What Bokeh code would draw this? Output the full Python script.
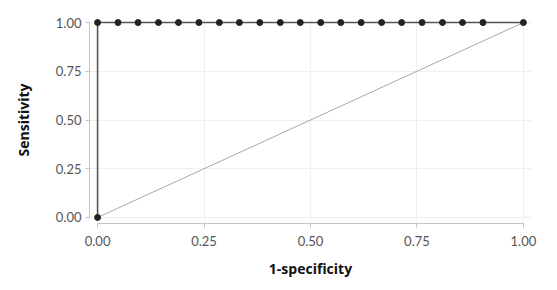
from bokeh.plotting import figure
from bokeh.models import Range1d, FixedTicker
from bokeh.embed import file_html
from bokeh.resources import INLINE

# ROC curve points (1-specificity, sensitivity)
fpr = [0.0, 0.0, 0.048, 0.095, 0.143, 0.190, 0.238, 0.286, 0.333, 0.381, 0.429,
       0.476, 0.524, 0.571, 0.619, 0.667, 0.714, 0.762, 0.810, 0.857, 0.905, 1.0]
tpr = [0.0, 1.0, 1.0, 1.0, 1.0, 1.0, 1.0, 1.0, 1.0, 1.0, 1.0,
       1.0, 1.0, 1.0, 1.0, 1.0, 1.0, 1.0, 1.0, 1.0, 1.0, 1.0]
ref_x = [0.0, 1.0]
ref_y = [0.0, 1.0]
ticks = [0.0, 0.25, 0.5, 0.75, 1.0]
tick_labels = {0.0: "0.00", 0.25: "0.25", 0.5: "0.50", 0.75: "0.75", 1.0: "1.00"}

FONT = "Lato"
TITLE_FONT = "Open Sans"

p = figure(width=549, height=282, output_backend="svg", toolbar_location=None,
           x_range=Range1d(-0.019, 1.019), y_range=Range1d(-0.031, 1.031),
           min_border_left=89, min_border_right=18, min_border_top=16, min_border_bottom=59)
p.outline_line_color = None
p.background_fill_color = "white"

for ax in (p.xaxis[0], p.yaxis[0]):
    ax.ticker = FixedTicker(ticks=ticks)
    ax.major_label_overrides = tick_labels
    ax.bounds = (0, 1)
    ax.axis_line_color = "#c4c4c4"
    ax.axis_line_width = 1
    ax.major_tick_line_color = "#c4c4c4"
    ax.major_tick_in = 0
    ax.major_tick_out = 4
    ax.minor_tick_line_color = None
    ax.major_label_text_font = FONT
    ax.major_label_text_font_size = "13px"
    ax.major_label_text_color = "#555555"
    ax.axis_label_text_font = TITLE_FONT
    ax.axis_label_text_font_size = "14px"
    ax.axis_label_text_font_style = "bold"
    ax.axis_label_text_color = "#111111"

p.xaxis.axis_label = "1-specificity"
p.yaxis.axis_label = "Sensitivity"
p.xaxis.major_label_standoff = 8
p.yaxis.major_label_standoff = 4
p.xaxis.axis_label_standoff = 10
p.yaxis.axis_label_standoff = 20

p.xgrid.ticker = FixedTicker(ticks=ticks)
p.ygrid.ticker = FixedTicker(ticks=ticks)
p.grid.grid_line_color = "#efefef"
p.grid.grid_line_width = 1

p.line(ref_x, ref_y, line_color="#a8a8a8", line_width=1)
p.line(fpr, tpr, line_color="#555555", line_width=1.6)
p.scatter(fpr, tpr, size=6, fill_color="#222222", line_color="#222222")

open("out.html", "w").write(file_html(p, INLINE))
